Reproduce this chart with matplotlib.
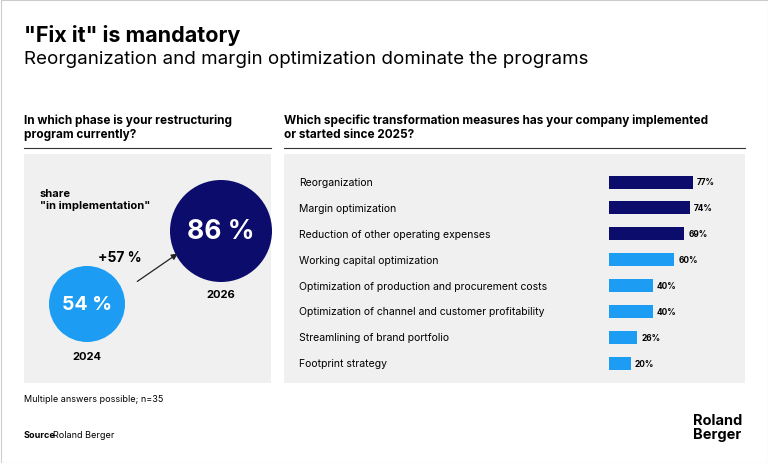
import matplotlib
matplotlib.use("Agg")
import matplotlib.pyplot as plt
from matplotlib.patches import Rectangle, Circle, FancyArrowPatch

measures = ["Reorganization", "Margin optimization", "Reduction of other operating expenses",
            "Working capital optimization", "Optimization of production and procurement costs",
            "Optimization of channel and customer profitability", "Streamlining of brand portfolio",
            "Footprint strategy"]
values = [77, 74, 69, 60, 40, 40, 26, 20]
share_2024 = 54
share_2026 = 86
change_label = "+57 %"
years = ["2024", "2026"]

NAVY = "#0b0c6b"
BLUE = "#1c9cf2"
GRAY = "#f0f0f0"
FONT = ["Inter", "DejaVu Sans"]
plt.rcParams['font.family'] = FONT

fig = plt.figure(figsize=(7.68, 4.64), dpi=100)
ax = fig.add_axes([0, 0, 1, 1])
ax.set_xlim(0, 768); ax.set_ylim(464, 0); ax.axis("off")

ax.add_patch(Rectangle((0.5, 0.5), 767, 463, fill=False, ec="#cccccc", lw=0.8))
ax.text(24, 35, '"Fix it" is mandatory', fontsize=15.5, fontweight="bold", va="center")
ax.text(24, 60, "Reorganization and margin optimization dominate the programs", fontsize=13.5, va="center")

ax.text(24, 128, "In which phase is your restructuring\nprogram currently?", fontsize=8.5,
        fontweight="bold", va="center", linespacing=1.2)
ax.text(284, 128, "Which specific transformation measures has your company implemented\nor started since 2025?",
        fontsize=8.5, fontweight="bold", va="center", linespacing=1.2)
ax.plot([24, 271], [149, 149], color="#333333", lw=0.8)
ax.plot([284, 745], [149, 149], color="#333333", lw=0.8)

ax.add_patch(Rectangle((24, 155), 247, 229, color=GRAY, lw=0))
ax.add_patch(Rectangle((284, 155), 461, 229, color=GRAY, lw=0))

# circles
ax.add_patch(Circle((87, 305), 38, color=BLUE, lw=0))
ax.add_patch(Circle((221, 232), 51, color=NAVY, lw=0))
ax.text(87, 305, f"{share_2024} %", color="white", fontsize=14, fontweight="bold", ha="center", va="center")
ax.text(221, 232, f"{share_2026} %", color="white", fontsize=19, fontweight="bold", ha="center", va="center")
ax.text(87, 357, years[0], fontsize=8, fontweight="bold", ha="center", va="center")
ax.text(221, 295, years[1], fontsize=8, fontweight="bold", ha="center", va="center")
ax.text(40, 200, 'share\n"in implementation"', fontsize=8, fontweight="bold", va="center", linespacing=1.3)
ax.text(98, 258, change_label, fontsize=10, fontweight="bold", va="center")
ax.add_patch(FancyArrowPatch((135, 284), (180, 253), arrowstyle="-|>", mutation_scale=9, lw=0.9,
                             color="#222222", zorder=5))

# bars
ys = [183 + i * 25.9 for i in range(len(values))]
colors = [NAVY if i < 3 else BLUE for i in range(len(values))]
scale = 84 / 77
ax.barh(ys, [v * scale for v in values], left=609, height=13, color=colors)
for y, name, v in zip(ys, measures, values):
    ax.text(299, y, name, fontsize=7.5, va="center")
    ax.text(609 + v * scale + 4, y, f"{v}%", fontsize=6, fontweight="bold", va="center")

ax.text(24, 400, "Multiple answers possible; n=35", fontsize=6.5, va="center")
ax.text(24, 436, "Source", fontsize=6.5, fontweight="bold", va="center")
ax.text(53, 436, "Roland Berger", fontsize=6.5, va="center")
ax.text(693, 428, "Roland\nBerger", fontsize=10.5, fontweight="bold", va="center", linespacing=1.0)

fig.savefig("out.png", dpi=100)
